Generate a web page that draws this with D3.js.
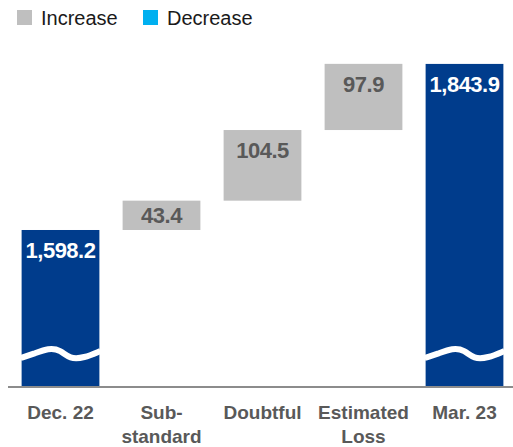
<!DOCTYPE html>
<html>
<head>
<meta charset="utf-8">
<script src="https://cdn.jsdelivr.net/npm/d3@7"></script>
<style>
  body { margin: 0; background: #fff; }
  text { font-family: "Liberation Sans", Arial, sans-serif; }
</style>
</head>
<body>
<div id="chart"></div>
<script>
var width = 513;
var height = 447;

// data
var categories = ["Dec. 22", "Sub-\nstandard", "Doubtful", "Estimated\nLoss", "Mar. 23"];
var values = [1598.2, 43.4, 104.5, 97.9, 1843.9];
var kinds = ["total", "increase", "increase", "increase", "total"];
var legendNames = ["Increase", "Decrease"];

var navy = "#003C8C";
var grey = "#BFBFBF";
var textGrey = "#595959";
var legendColors = [grey, "#00B0F0"];

// build waterfall steps
var running = 0;
var rows = [];
for (var i = 0; i < values.length; ++i) {
    if (kinds[i] == "total") {
        rows.push({cat: categories[i], v: values[i], kind: kinds[i], start: null, end: values[i]});
        running = values[i];
    } else {
        rows.push({cat: categories[i], v: values[i], kind: kinds[i], start: running, end: running + values[i]});
        running += values[i];
    }
}

var svg = d3.select("#chart")
    .append("svg")
    .attr("width", width)
    .attr("height", height);

var baseY = 386;

var xScale = d3.scaleBand()
    .domain(categories)
    .range([10, 515])
    .paddingInner(0.23)
    .paddingOuter(0.115);

// broken axis: the bottom of the scale is not zero
var yScale = d3.scaleLinear()
    .domain([1367.4, 1900])
    .range([baseY, 26]);

// bars
svg.selectAll("rect.bar")
    .data(rows)
    .enter()
    .append("rect")
    .attr("class", "bar")
    .attr("x", function(d) { return xScale(d.cat); })
    .attr("width", xScale.bandwidth())
    .attr("y", function(d) { return yScale(d.end); })
    .attr("height", function(d) {
        var bottom = d.start === null ? yScale.range()[0] : yScale(d.start);
        return bottom - yScale(d.end);
    })
    .attr("fill", function(d) { return d.kind == "total" ? navy : grey; });

// axis break waves on the totals
var wave = d3.line().curve(d3.curveBasis);
svg.selectAll("path.wave")
    .data(rows.filter(function(d) { return d.kind == "total"; }))
    .enter()
    .append("path")
    .attr("class", "wave")
    .attr("d", function(d) {
        var x0 = xScale(d.cat), w = xScale.bandwidth();
        return wave([
            [x0 - 1, 358], [x0 + w * 0.15, 354], [x0 + w * 0.35, 348],
            [x0 + w * 0.5, 350], [x0 + w * 0.62, 359], [x0 + w * 0.8, 358],
            [x0 + w + 1, 351]
        ]);
    })
    .attr("fill", "none")
    .attr("stroke", "#fff")
    .attr("stroke-width", 6);

// value labels
svg.selectAll("text.val")
    .data(rows)
    .enter()
    .append("text")
    .attr("class", "val")
    .attr("x", function(d) { return xScale(d.cat) + xScale.bandwidth() / 2; })
    .attr("y", function(d) {
        var top = yScale(d.end);
        var bottom = d.start === null ? baseY : yScale(d.start);
        return Math.min(top + 28, (top + bottom) / 2 + 8);
    })
    .attr("text-anchor", "middle")
    .style("font-size", "22px")
    .style("font-weight", "bold")
    .style("letter-spacing", "-0.5px")
    .attr("fill", function(d) { return d.kind == "total" ? "#fff" : textGrey; })
    .text(function(d) { return d3.format(",.1f")(d.v); });

// baseline
svg.append("line")
    .attr("x1", 8)
    .attr("x2", width)
    .attr("y1", baseY + 1)
    .attr("y2", baseY + 1)
    .attr("stroke", "#8C8C8C")
    .attr("stroke-width", 2);

// category labels
var catLabels = svg.selectAll("text.cat")
    .data(categories)
    .enter()
    .append("text")
    .attr("class", "cat")
    .attr("text-anchor", "middle")
    .attr("fill", textGrey)
    .style("font-size", "19px")
    .style("font-weight", "bold");

catLabels.selectAll("tspan")
    .data(function(d) { return d.split("\n").map(function(t) { return {t: t, c: d}; }); })
    .enter()
    .append("tspan")
    .attr("x", function(d) { return xScale(d.c) + xScale.bandwidth() / 2; })
    .attr("y", function(d, i) { return 419 + i * 24; })
    .text(function(d) { return d.t; });

// legend
var legend = svg.selectAll("g.legend")
    .data(legendNames)
    .enter()
    .append("g")
    .attr("class", "legend")
    .attr("transform", function(d, i) { return "translate(" + (17 + i * 126) + ",0)"; });

legend.append("rect")
    .attr("x", 0)
    .attr("y", 10)
    .attr("width", 15)
    .attr("height", 15)
    .attr("fill", function(d, i) { return legendColors[i]; });

legend.append("text")
    .attr("x", 24)
    .attr("y", 25)
    .style("font-size", "20px")
    .attr("fill", "#1a1a1a")
    .text(function(d) { return d; });
</script>
</body>
</html>
